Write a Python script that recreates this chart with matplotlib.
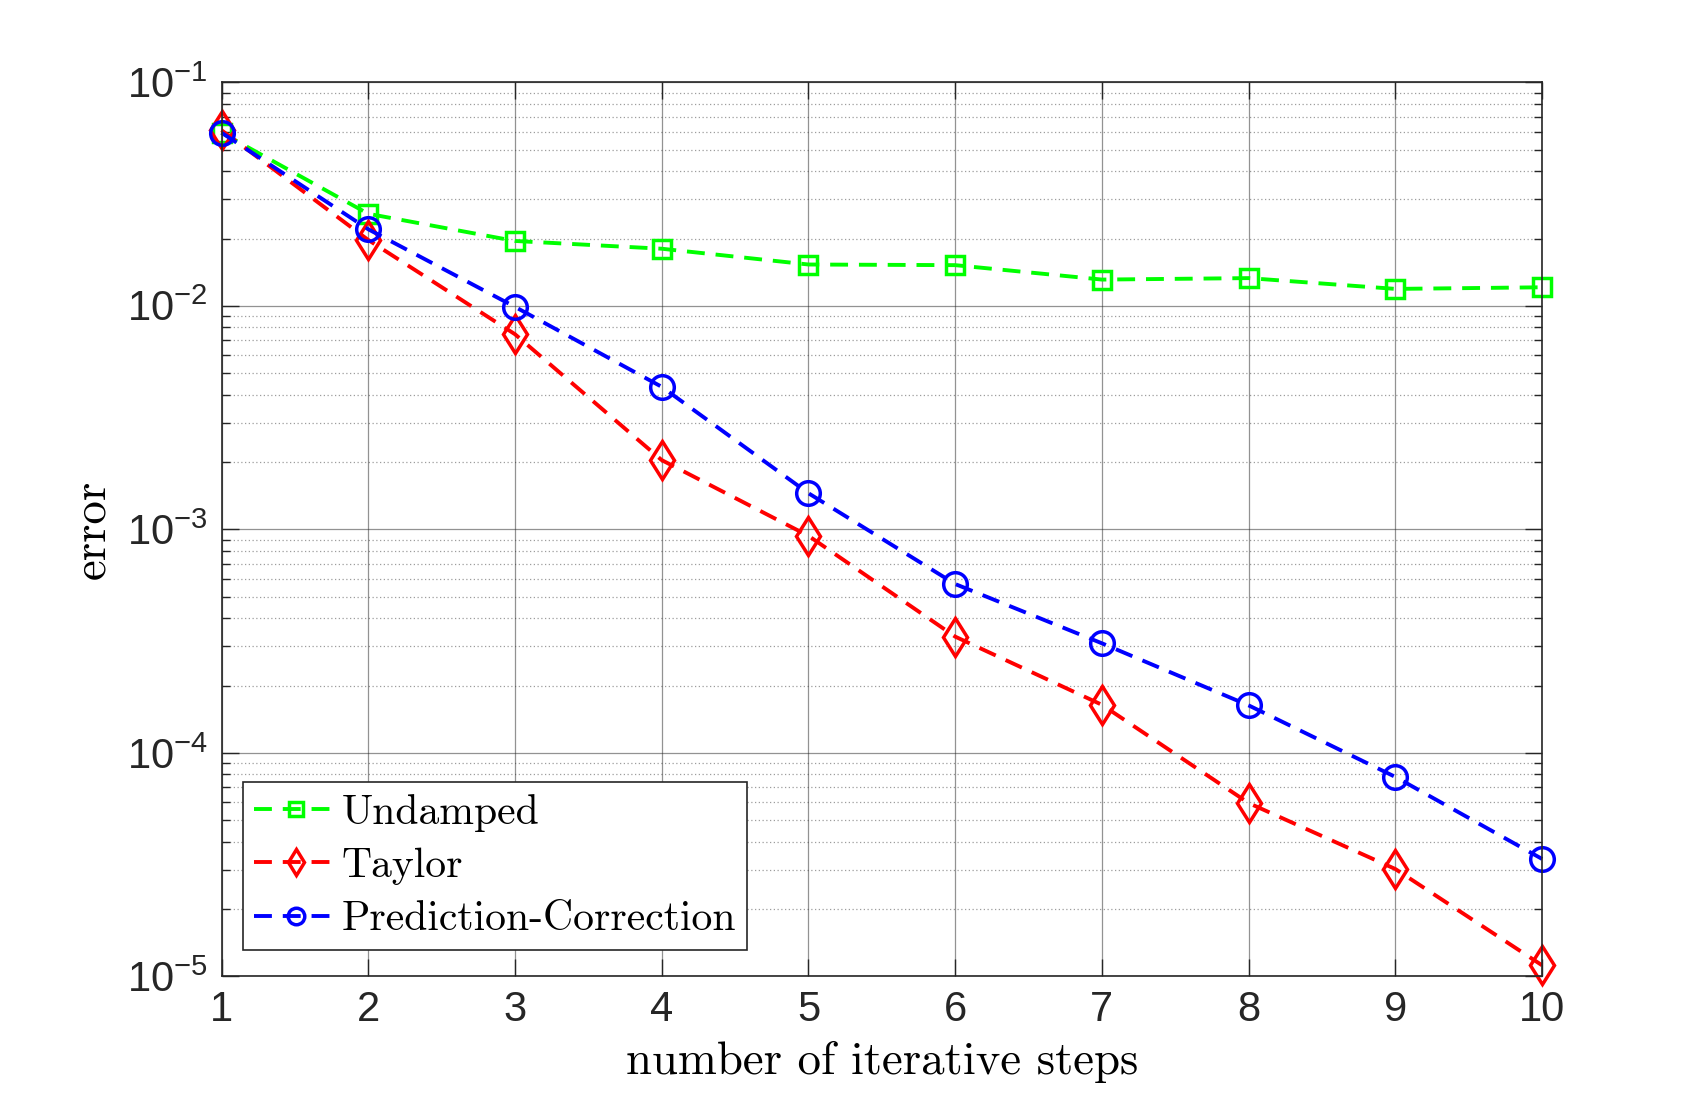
import numpy as np
import matplotlib
matplotlib.use("Agg")
import matplotlib.pyplot as plt
from matplotlib import ticker as tick

# (log scale)
steps = [1, 2, 3, 4, 5, 6, 7, 8, 9, 10]
err_undamped = [0.0595, 0.0258, 0.0195, 0.0180, 0.0153, 0.0152, 0.0131, 0.0133, 0.0119, 0.0121]
err_taylor = [0.0610, 0.0197, 0.00746, 0.00204, 0.000935, 0.000331, 0.000164, 5.96e-5, 3.02e-5, 1.12e-5]
err_pc = [0.0595, 0.0220, 0.00989, 0.00434, 0.00145, 0.000569, 0.000309, 0.000163, 7.8e-5, 3.35e-5]

labels = ["Undamped", "Taylor", "Prediction-Correction"]

F = 30      # tick labels
FL = 33.7   # axis labels
FG = 30     # legend
plt.rcParams['font.family'] = ['Liberation Sans', 'DejaVu Sans']
plt.rcParams['mathtext.fontset'] = 'custom'
plt.rcParams['mathtext.rm'] = 'Liberation Sans'
plt.rcParams['mathtext.it'] = 'Liberation Sans:italic'
plt.rcParams['mathtext.bf'] = 'Liberation Sans:bold'

fig1 = plt.figure(1, figsize=(17.04, 10.97), dpi=100)
ax1a = fig1.add_axes([0.13, 0.11, 0.775, 0.815])

lw = 2.8
ms = 17
mew = 2.5
dash = (4.6, 2.8)
ax1a.semilogy(steps, err_undamped, color=(0, 1, 0), ls='--', dashes=dash, lw=lw,
              marker='s', ms=ms * 0.8, mfc='none', mew=mew, label=labels[0], clip_on=False)
ax1a.semilogy(steps, err_taylor, color=(1, 0, 0), ls='--', dashes=dash, lw=lw,
              marker='d', ms=ms * 1.15, mfc='none', mew=mew, label=labels[1], clip_on=False)
ax1a.semilogy(steps, err_pc, color=(0, 0, 1), ls='--', dashes=dash, lw=lw,
              marker='o', ms=ms, mfc='none', mew=mew, label=labels[2], clip_on=False)

ax1a.set_xlim(1, 10)
ax1a.set_ylim(1e-5, 1e-1)
ax1a.set_xticks(steps)
ax1a.xaxis.set_minor_locator(tick.NullLocator())
ax1a.yaxis.set_major_locator(tick.LogLocator(base=10, numticks=10))
ax1a.yaxis.set_minor_locator(tick.LogLocator(base=10, subs=np.arange(2, 10), numticks=20))
ax1a.yaxis.set_minor_formatter(tick.NullFormatter())

ax1a.grid(True, which='major', color='#262626', alpha=0.5, lw=0.9, ls='-')
ax1a.grid(True, which='minor', axis='y', color='#262626', alpha=0.45, lw=0.9, ls=(0, (1, 2)))
ax1a.set_axisbelow(True)

ax1a.tick_params(which='both', direction='in', top=True, right=True, labelsize=F,
                 colors='#262626', width=1.0)
ax1a.tick_params(which='major', length=12, pad=10)
ax1a.tick_params(which='minor', length=6)
for sp in ax1a.spines.values():
    sp.set_color('#262626')
    sp.set_linewidth(1.2)

ax1a.set_xlabel('number of iterative steps', fontsize=FL, family='cmr10', labelpad=8)
ax1a.set_ylabel('error', fontsize=FL, family='cmr10', labelpad=10)

leg = ax1a.legend(loc='lower left', bbox_to_anchor=(0.016, 0.03), prop={'family': 'cmr10', 'size': FG},
                  handlelength=2.0, handletextpad=0.1, borderpad=0.27, labelspacing=0.38,
                  markerscale=0.7, fancybox=False, framealpha=1, edgecolor='#262626',
                  borderaxespad=0)
leg.get_frame().set_linewidth(1.2)

fig1.savefig('out.png', dpi=100)
